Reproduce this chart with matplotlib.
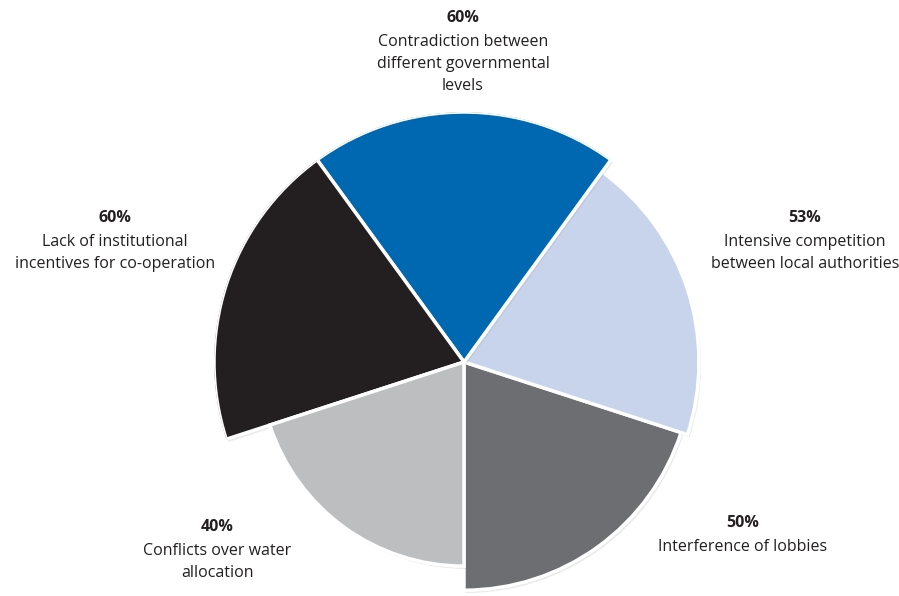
# Coding: utf-8

"""Polar area chart of obstacles to metropolitan co-operation."""

import numpy as np
import matplotlib
matplotlib.use('Agg')
import matplotlib.pyplot as plt
import matplotlib.patheffects as pe

plt.rcParams['font.family'] = ['Open Sans', 'DejaVu Sans']

# Data, counter-clockwise starting at the bottom
values = [50, 53, 60, 60, 40]
labels = [
    "Interference of lobbies",
    "Intensive competition\nbetween local authorities",
    "Contradiction between\ndifferent governmental\nlevels",
    "Lack of institutional\nincentives for co-operation",
    "Conflicts over water\nallocation",
]
colors = ['#6d6e71', '#c7d4eb', '#0067b1', '#231f20', '#bcbec0']

# label anchors in pixels (x, y of the percentage line)
label_pos = [(743, 523), (805, 218), (463, 18), (115, 218), (217, 527)]

W, H = 899, 596
fig = plt.figure(figsize=(W / 100, H / 100), dpi=100)

# area of each sector proportional to the value
radii = np.sqrt(values)
rmax = radii.max()
r_px = 250.0
cx, cy = 464, 362
ax = fig.add_axes([(cx - r_px) / W, (H - cy - r_px) / H, 2 * r_px / W, 2 * r_px / H],
                  projection='polar')

n = len(values)
width = 2 * np.pi / n
theta = np.deg2rad(-90) + width * np.arange(n)
bars = ax.bar(theta, radii, width=width, align='edge', color=colors,
              edgecolor='white', linewidth=2.5)
for b in bars:
    b.set_path_effects([pe.SimplePatchShadow(offset=(1.5, -2), shadow_rgbFace='#999999', alpha=0.2),
                        pe.Normal()])

ax.set_ylim(0, rmax)
ax.set_axis_off()

for (x, y), v, lab in zip(label_pos, values, labels):
    fig.text(x / W, 1 - y / H, f"{v}%", ha='center', va='center',
             fontsize=11.5, fontweight='bold', color='#231f20')
    for i, line in enumerate(lab.split('\n')):
        fig.text(x / W, 1 - (y + 24 + 22 * i) / H, line, ha='center', va='center',
                 fontsize=11.5, color='#231f20')

fig.savefig('out.png', dpi=100)
